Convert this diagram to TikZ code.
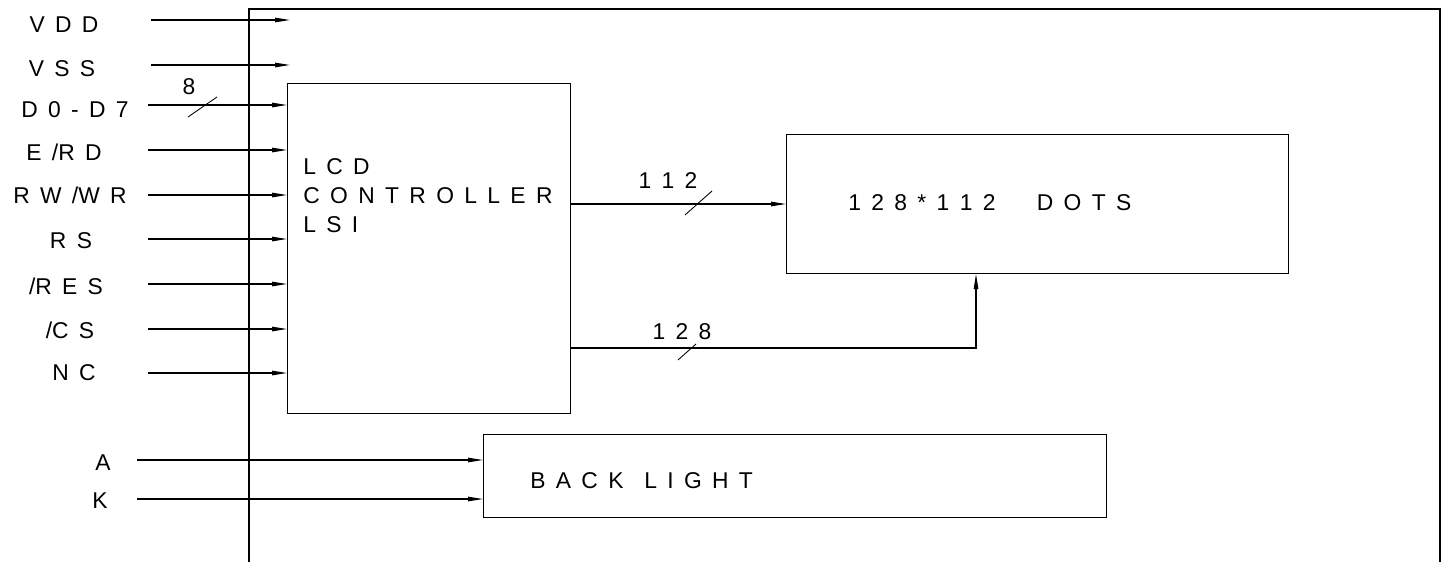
\documentclass[tikz,border=0pt]{standalone}
\usepackage{fontspec}
\setmainfont{Liberation Sans}[WordSpace={1.63,0,0}]
\usetikzlibrary{arrows.meta, positioning, calc}

\begin{document}
\begin{tikzpicture}[
      x=0.02cm, y=-0.02cm,
      blk/.style={draw, line width=0.6pt, anchor=north west, inner sep=0pt},
      txt/.style={font=\fontsize{13pt}{16.5pt}\selectfont, inner sep=0pt},
      lbl/.style={txt, anchor=base},
      arr/.style={-{Triangle[length=3mm, width=0.9mm]}, line width=0.6pt},
      bus/.style={line width=0.5pt}
    ]
      \useasboundingbox (0,0) rectangle (1449,562);

      % module outline
      \draw[line width=0.6pt] (249,562) |- (1440,9) -- (1440,562);

      % blocks
      \node[blk, minimum width=5.66cm, minimum height=6.6cm] (ctrl) at (287,83) {};
      \node[blk, minimum width=10.04cm, minimum height=2.78cm] (dots) at (786,134) {};
      \node[blk, minimum width=12.46cm, minimum height=1.66cm] (bl) at (483,434) {};

      \node[txt, anchor=west, align=left] (ctrltxt) at (303,196) {L C D\\C O N T R O L L E R\\L S I};
      \node[txt, anchor=west] (dotstxt) at (848,203) {1 2 8 * 1 1 2~~~ D O T S};
      \node[txt, anchor=west] (bltxt) at (530,481) {B A C K~ L I G H T};

      % pin names
      \node[lbl] (vdd) at (64,32) {V D D};
      \node[lbl] (vss) at (62,76) {V S S};
      \node[lbl] (db) at (75,117) {D 0 - D 7};
      \node[lbl] (erd) at (64,160) {E /R D};
      \node[lbl] (rw) at (70,203) {R W /W R};
      \node[lbl] (rs) at (71,248) {R S};
      \node[lbl] (res) at (66,294) {/R E S};
      \node[lbl] (cs) at (70,338) {/C S};
      \node[lbl] (nc) at (74,380) {N C};
      \node[lbl] (pa) at (103,470) {A};
      \node[lbl] (pk) at (100,508) {K};

      % supply inputs
      \coordinate (vdd-in) at (151,20);
      \coordinate (vdd-out) at (290,20);
      \coordinate (vss-in) at (151,65);
      \coordinate (vss-out) at (290,65);
      \draw[arr] (vdd-in) -- (vdd-out);
      \draw[arr] (vss-in) -- (vss-out);

      % controller inputs
      \coordinate (db-in) at (148,105);
      \coordinate (erd-in) at (148,150);
      \coordinate (rw-in) at (148,195);
      \coordinate (rs-in) at (148,239);
      \coordinate (res-in) at (148,284);
      \coordinate (cs-in) at (148,329);
      \coordinate (nc-in) at (148,373);
      \draw[arr] (db-in) -- (db-in -| ctrl.west);
      \draw[arr] (erd-in) -- (erd-in -| ctrl.west);
      \draw[arr] (rw-in) -- (rw-in -| ctrl.west);
      \draw[arr] (rs-in) -- (rs-in -| ctrl.west);
      \draw[arr] (res-in) -- (res-in -| ctrl.west);
      \draw[arr] (cs-in) -- (cs-in -| ctrl.west);
      \draw[arr] (nc-in) -- (nc-in -| ctrl.west);
      \draw[bus] (188,117) -- (217,97);
      \node[txt] (w8) at (189,87) {8};

      % controller outputs
      \draw[arr] (ctrl.east |- dots.west) -- (dots.west);
      \draw[bus] (685,215) -- (712,191);
      \node[txt] (w112) at (668,181) {1 1 2};

      \coordinate (ctrl-out) at (570,348);
      \coordinate (dots-in) at ($(dots.south west)+(190,0)$);
      \draw[arr] (ctrl-out) -| (dots-in);
      \draw[bus] (678,360) -- (696,344);
      \node[txt] (w128) at (682,332) {1 2 8};

      % back light
      \coordinate (a-in) at (137,460);
      \coordinate (k-in) at (137,499);
      \draw[arr] (a-in) -- (a-in -| bl.west);
      \draw[arr] (k-in) -- (k-in -| bl.west);
    \end{tikzpicture}
\end{document}
